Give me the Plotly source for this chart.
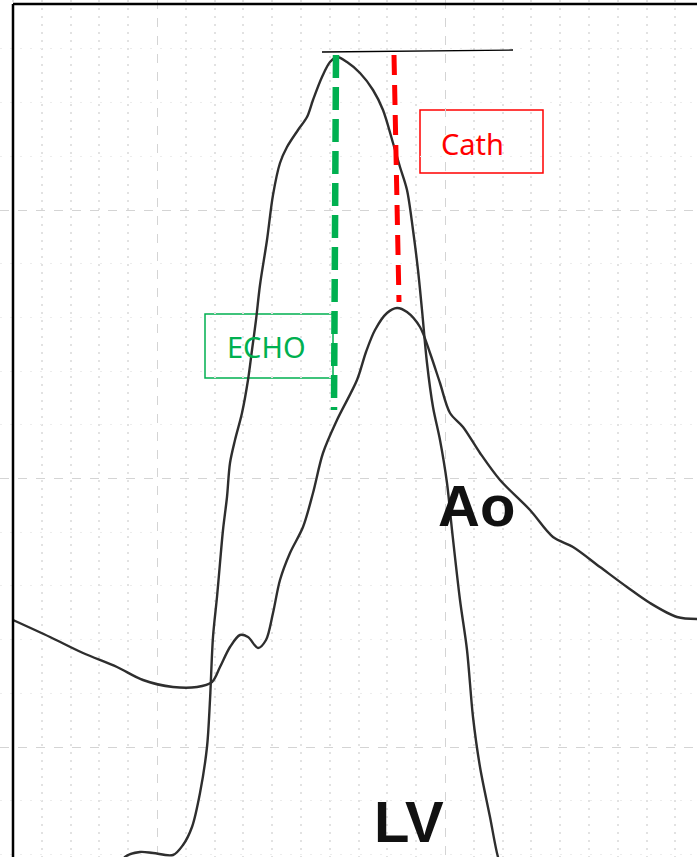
import plotly.graph_objects as go

lv_t = [120, 125, 140, 153, 173, 183, 192, 200, 207, 210, 213, 217, 220, 223, 227, 230, 235, 242, 248, 252,
        256, 260, 267, 273, 280, 287, 298, 307, 313, 322, 330, 337, 347, 360, 373, 383, 393, 400, 407, 413,
        418, 422, 427, 433, 440, 447, 452, 460, 467, 473, 480, 490, 498, 502]
lv_p = [-10, 0, 5, 4, 2, 12, 30, 64, 110, 157, 220, 260, 294, 327, 360, 394, 417, 444, 477, 507,
        537, 572, 617, 662, 694, 710, 727, 740, 757, 780, 795, 800, 795, 784, 767, 747, 714, 690, 667, 627,
        587, 547, 494, 450, 417, 374, 327, 257, 207, 140, 90, 40, 0, -10]

ao_t = [13, 50, 83, 117, 143, 173, 197, 212, 220, 230, 240, 248, 258, 266, 273, 280, 290, 303, 313, 323,
        337, 357, 366, 375, 387, 397, 407, 420, 430, 440, 450, 463, 480, 500, 530, 553, 573, 600, 627, 650,
        677, 697]
ao_p = [237, 220, 204, 190, 177, 170, 170, 175, 190, 210, 222, 220, 209, 217, 244, 277, 304, 330, 364, 404,
        437, 477, 505, 527, 544, 549, 545, 530, 504, 474, 444, 430, 404, 377, 347, 320, 310, 290, 270, 254,
        240, 238]

# Peak reference line and the two peak markers
peak_line_t = [322, 513]
peak_line_p = [805, 807]
echo_t = [336, 334]
echo_p = [802, 447]
cath_t = [394, 399]
cath_p = [802, 555]

# Label boxes (x0, x1, y0, y1)
echo_box = [205, 333, 479, 543]
cath_box = [420, 543, 684, 747]

fig = go.Figure()

trace_line = dict(color="#2e2e2e", width=2.4, shape="spline", smoothing=0.9)
fig.add_trace(go.Scatter(x=ao_t, y=ao_p, mode="lines", line=trace_line,
                         hoverinfo="skip", showlegend=False))
fig.add_trace(go.Scatter(x=lv_t, y=lv_p, mode="lines", line=trace_line,
                         hoverinfo="skip", showlegend=False))
fig.add_trace(go.Scatter(x=peak_line_t, y=peak_line_p, mode="lines",
                         line=dict(color="black", width=1.3), hoverinfo="skip", showlegend=False))
fig.add_trace(go.Scatter(x=echo_t, y=echo_p, mode="lines",
                         line=dict(color="#00b050", width=6.5, dash="23px,9px"),
                         hoverinfo="skip", showlegend=False))
fig.add_trace(go.Scatter(x=cath_t, y=cath_p, mode="lines",
                         line=dict(color="#ff0000", width=5, dash="20px,10px"),
                         hoverinfo="skip", showlegend=False))

fig.add_shape(type="rect", x0=echo_box[0], x1=echo_box[1], y0=echo_box[2], y1=echo_box[3],
              line=dict(color="#00b050", width=1.5), layer="below")
fig.add_shape(type="rect", x0=cath_box[0], x1=cath_box[1], y0=cath_box[2], y1=cath_box[3],
              line=dict(color="#ff0000", width=1.5), layer="below")

# frame (top and left edges)
fig.add_shape(type="line", x0=13, x1=697, y0=853, y1=853, line=dict(color="black", width=2.5))
fig.add_shape(type="line", x0=13, x1=13, y0=0, y1=853, line=dict(color="black", width=2.5))

fig.add_annotation(x=266, y=511, text="ECHO", showarrow=False, xanchor="center", yanchor="middle",
                   font=dict(family="Noto Sans", size=29, color="#00b050"))
fig.add_annotation(x=472, y=714, text="Cath", showarrow=False, xanchor="center", yanchor="middle",
                   font=dict(family="Noto Sans", size=29, color="#ff0000"))
fig.add_annotation(x=476, y=352, text="<b>Ao</b>", showarrow=False, xanchor="center", yanchor="middle",
                   font=dict(family="Liberation Sans", size=58, color="#111111"))
fig.add_annotation(x=409, y=1, text="<b>LV</b>", showarrow=False, xanchor="center", yanchor="bottom",
                   font=dict(family="Liberation Sans", size=58, color="#111111"))

fig.update_layout(
    width=697, height=857,
    margin=dict(l=0, r=0, t=0, b=0),
    paper_bgcolor="white", plot_bgcolor="white",
    showlegend=False,
    xaxis=dict(range=[0, 697], showticklabels=False, zeroline=False, showline=False, ticks="",
               showgrid=True, tick0=157, dtick=288, gridcolor="#d4d4d4", griddash="dash", gridwidth=1,
               minor=dict(tick0=157, dtick=28.8, showgrid=True, gridcolor="#e2e2e2",
                          griddash="2px,6px", gridwidth=2)),
    yaxis=dict(range=[0, 857], showticklabels=False, zeroline=False, showline=False, ticks="",
               showgrid=True, tick0=110, dtick=268.5, gridcolor="#d4d4d4", griddash="dash", gridwidth=1,
               minor=dict(tick0=110, dtick=53.7, showgrid=True, gridcolor="#ececec",
                          griddash="2px,8px", gridwidth=1)),
)

fig.write_html("out.html")
